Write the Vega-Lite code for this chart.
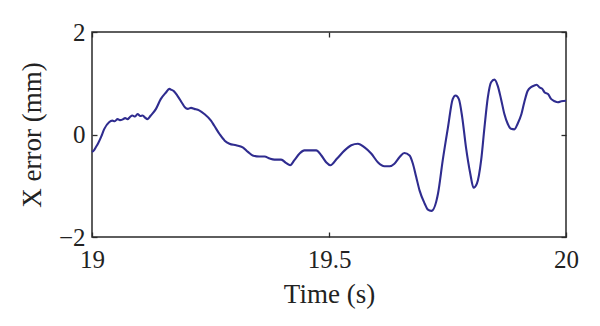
{
  "$schema": "https://vega.github.io/schema/vega-lite/v6.json",
  "autosize": "none",
  "width": 474,
  "height": 205,
  "padding": {"left": 92, "top": 32, "right": 34, "bottom": 89},
  "background": "white",
  "config": {
    "view": {"stroke": "#2a2a2a", "strokeWidth": 1.5},
    "font": "Liberation Serif",
    "axis": {"grid": false, "domain": false, "tickColor": "#2a2a2a", "tickSize": -5, "tickWidth": 1.3,
             "labelFont": "Liberation Serif", "titleFont": "Liberation Serif",
             "labelFontSize": 25, "titleFontSize": 27, "labelColor": "#222", "titleColor": "#222",
             "titleFontWeight": "normal", "labelFlush": false}
  },
  "data": {"values": [
    {"t": 19.000, "v": -0.34}, {"t": 19.004, "v": -0.31}, {"t": 19.008, "v": -0.25}, {"t": 19.013, "v": -0.17}, {"t": 19.019, "v": -0.05}, {"t": 19.026, "v": 0.11},
    {"t": 19.036, "v": 0.24}, {"t": 19.043, "v": 0.27}, {"t": 19.048, "v": 0.26}, {"t": 19.054, "v": 0.30}, {"t": 19.059, "v": 0.28}, {"t": 19.064, "v": 0.29},
    {"t": 19.070, "v": 0.32}, {"t": 19.075, "v": 0.30}, {"t": 19.080, "v": 0.34}, {"t": 19.085, "v": 0.37}, {"t": 19.091, "v": 0.35}, {"t": 19.096, "v": 0.40}, {"t": 19.102, "v": 0.36}, {"t": 19.107, "v": 0.37},
    {"t": 19.112, "v": 0.33}, {"t": 19.117, "v": 0.30}, {"t": 19.124, "v": 0.37}, {"t": 19.135, "v": 0.50}, {"t": 19.145, "v": 0.69},
    {"t": 19.156, "v": 0.82}, {"t": 19.163, "v": 0.89}, {"t": 19.168, "v": 0.87}, {"t": 19.172, "v": 0.85}, {"t": 19.180, "v": 0.76},
    {"t": 19.191, "v": 0.60}, {"t": 19.196, "v": 0.53}, {"t": 19.202, "v": 0.50}, {"t": 19.209, "v": 0.52}, {"t": 19.216, "v": 0.50}, {"t": 19.226, "v": 0.47},
    {"t": 19.237, "v": 0.40}, {"t": 19.251, "v": 0.27}, {"t": 19.258, "v": 0.17}, {"t": 19.269, "v": 0.01},
    {"t": 19.280, "v": -0.12}, {"t": 19.290, "v": -0.18}, {"t": 19.304, "v": -0.21}, {"t": 19.318, "v": -0.25},
    {"t": 19.329, "v": -0.34}, {"t": 19.339, "v": -0.41}, {"t": 19.353, "v": -0.43}, {"t": 19.364, "v": -0.43},
    {"t": 19.375, "v": -0.47}, {"t": 19.385, "v": -0.49}, {"t": 19.399, "v": -0.49}, {"t": 19.410, "v": -0.56},
    {"t": 19.418, "v": -0.60}, {"t": 19.427, "v": -0.50}, {"t": 19.438, "v": -0.37}, {"t": 19.448, "v": -0.31},
    {"t": 19.459, "v": -0.31}, {"t": 19.473, "v": -0.31}, {"t": 19.484, "v": -0.41}, {"t": 19.494, "v": -0.54},
    {"t": 19.503, "v": -0.60}, {"t": 19.517, "v": -0.47}, {"t": 19.533, "v": -0.31}, {"t": 19.547, "v": -0.21},
    {"t": 19.561, "v": -0.18}, {"t": 19.575, "v": -0.25}, {"t": 19.589, "v": -0.37}, {"t": 19.603, "v": -0.54},
    {"t": 19.617, "v": -0.62}, {"t": 19.628, "v": -0.62}, {"t": 19.638, "v": -0.57}, {"t": 19.649, "v": -0.44},
    {"t": 19.659, "v": -0.36}, {"t": 19.670, "v": -0.41}, {"t": 19.677, "v": -0.57}, {"t": 19.684, "v": -0.83},
    {"t": 19.691, "v": -1.09}, {"t": 19.702, "v": -1.35}, {"t": 19.708, "v": -1.46}, {"t": 19.716, "v": -1.49},
    {"t": 19.730, "v": -1.15}, {"t": 19.740, "v": -0.50}, {"t": 19.751, "v": 0.14}, {"t": 19.761, "v": 0.69},
    {"t": 19.767, "v": 0.76}, {"t": 19.774, "v": 0.69}, {"t": 19.781, "v": 0.34}, {"t": 19.789, "v": -0.25},
    {"t": 19.798, "v": -0.76}, {"t": 19.805, "v": -1.04}, {"t": 19.812, "v": -0.96}, {"t": 19.821, "v": -0.50},
    {"t": 19.828, "v": 0.14}, {"t": 19.835, "v": 0.72}, {"t": 19.842, "v": 1.02}, {"t": 19.849, "v": 1.07},
    {"t": 19.856, "v": 0.95}, {"t": 19.863, "v": 0.69}, {"t": 19.870, "v": 0.40}, {"t": 19.877, "v": 0.21},
    {"t": 19.884, "v": 0.11}, {"t": 19.891, "v": 0.10}, {"t": 19.898, "v": 0.21}, {"t": 19.906, "v": 0.40},
    {"t": 19.912, "v": 0.63}, {"t": 19.919, "v": 0.85}, {"t": 19.927, "v": 0.93}, {"t": 19.934, "v": 0.96},
    {"t": 19.938, "v": 0.97}, {"t": 19.944, "v": 0.92}, {"t": 19.950, "v": 0.89}, {"t": 19.955, "v": 0.82},
    {"t": 19.962, "v": 0.79}, {"t": 19.969, "v": 0.69}, {"t": 19.976, "v": 0.65}, {"t": 19.983, "v": 0.63},
    {"t": 19.990, "v": 0.65}, {"t": 20.000, "v": 0.66}
  ]},
  "layer": [
    {
      "mark": {"type": "line", "color": "#2f2c8f", "strokeWidth": 2.1, "interpolate": "monotone"},
      "encoding": {
        "x": {"field": "t", "type": "quantitative", "scale": {"domain": [19, 20], "nice": false, "zero": false},
              "axis": {"values": [19, 19.5, 20], "format": "~g", "title": "Time (s)", "labelPadding": 15,
                       "labelFont": "Liberation Serif", "labelFontSize": 25, "labelFlush": false,
                       "titleY": 65, "titleBaseline": "alphabetic", "titleAnchor": "middle", "titleAlign": "center", "titleX": 237}},
        "y": {"field": "v", "type": "quantitative", "scale": {"domain": [-2, 2], "nice": false},
              "axis": {"values": [-2, 0, 2], "format": "~g", "title": "X error (mm)", "labelPadding": 12,
                       "labelFont": "Liberation Serif", "labelFontSize": 25, "labelFlush": false,
                       "titleX": -52, "titleY": 102.5, "titleBaseline": "alphabetic", "titleAlign": "center", "titleAngle": -90}}
      }
    },
    {
      "mark": {"type": "line", "strokeOpacity": 0},
      "encoding": {
        "x": {"field": "t", "type": "quantitative",
              "axis": {"orient": "top", "values": [19, 19.5, 20], "labels": false, "title": null}},
        "y": {"field": "v", "type": "quantitative",
              "axis": {"orient": "right", "values": [-2, 0, 2], "labels": false, "title": null}}
      }
    }
  ],
  "resolve": {"axis": {"x": "independent", "y": "independent"}}
}
